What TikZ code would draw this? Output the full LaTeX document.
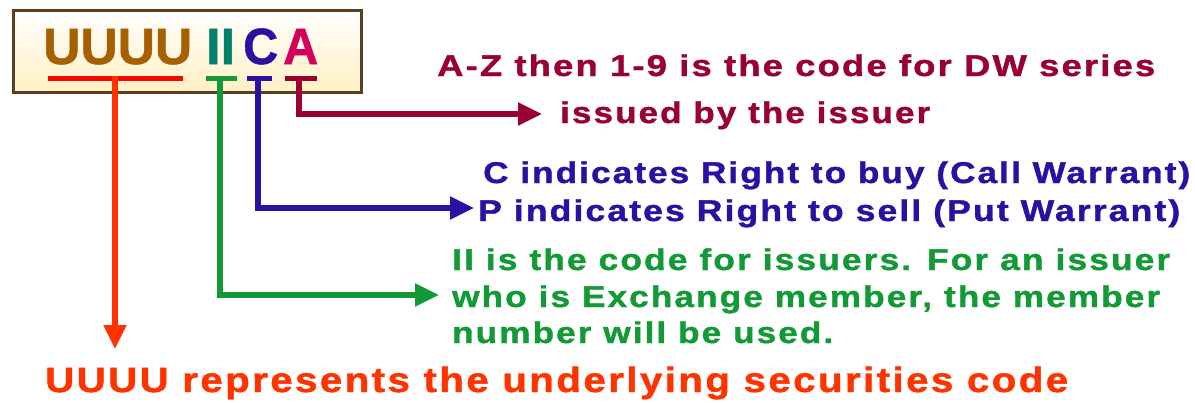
\documentclass[tikz,border=0pt]{standalone}
\usepackage{fontspec}
\usepackage{graphicx}
\setmainfont{Liberation Sans}
\newfontfamily\widefont[LetterSpace=6,FakeBold=1.2]{Liberation Sans}
\newfontfamily\boxfont[FakeBold=1]{Liberation Sans}
\usetikzlibrary{arrows.meta}
\definecolor{crim}{HTML}{990033}
\definecolor{blu}{HTML}{2B10A2}
\definecolor{grn}{HTML}{139A37}
\definecolor{org}{HTML}{FF3300}
\definecolor{brn}{HTML}{A66000}
\definecolor{teal2}{HTML}{00806A}
\definecolor{pnk}{HTML}{D5005A}
\definecolor{boxbd}{HTML}{5A4020}
\definecolor{cream}{HTML}{FFF0C4}
\newcommand\fitw[2]{\resizebox{#1}{\height}{#2}}
\tikzset{
  lbl/.style={inner sep=0pt, anchor=base west, font=\widefont\bfseries\fontsize{30}{32}\selectfont},
  big/.style={inner sep=0pt, anchor=base west, font=\boxfont\bfseries\fontsize{51}{54}\selectfont},
  uline/.style={line width=5pt},
  conn/.style={line width=5.5pt, -{Triangle[length=24pt,width=22pt]}},
}
\begin{document}
\begin{tikzpicture}[x=1pt,y=-1pt]
\useasboundingbox (0,0) rectangle (1195,402);
% code box
\node[draw=boxbd, line width=2.5pt, top color=white, bottom color=cream,
      minimum width=348pt, minimum height=82pt, inner sep=0pt, anchor=north west] (box) at (12,9) {};
\node[big, text=brn] (uuuu) at (43,64) {\fitw{149pt}{UUUU}};
\node[big, text=teal2] (ii) at (206,64) {\fitw{29pt}{II}};
\node[big, text=blu] (cc) at (243,64) {\fitw{35pt}{C}};
\node[big, text=pnk] (aa) at (283,64) {\fitw{35pt}{A}};
% underlines
\draw[uline, red] (48,78.5) -- (183,78.5);
\draw[uline, grn] (206,78.5) -- (237,78.5);
\draw[uline, blu] (247,78.5) -- (272,78.5);
\draw[uline, crim] (285,78.5) -- (317,78.5);
\coordinate (uS) at (115,76);
\coordinate (iS) at (220,76);
\coordinate (cS) at (258,76);
\coordinate (aS) at (299,76);
\coordinate (uE) at (115,349);
\coordinate (iE) at (439,295);
\coordinate (cE) at (474,208);
\coordinate (aE) at (542,114);
% texts
\node[lbl, text=crim] (t1) at (437,76) {\fitw{718pt}{A-Z then 1-9 is the code for DW series}};
\node[lbl, text=crim] (t2) at (560,123) {\fitw{370pt}{issued by the issuer}};
\node[lbl, text=blu] (t3) at (483,183) {\fitw{707pt}{C indicates Right to buy (Call Warrant)}};
\node[lbl, text=blu] (t4) at (478,221) {\fitw{702pt}{P indicates Right to sell (Put Warrant)}};
\node[lbl, text=grn] (t5) at (452,270) {\fitw{718pt}{II is the code for issuers. For an issuer}};
\node[lbl, text=grn] (t6) at (452,307) {\fitw{708pt}{who is Exchange member, the member}};
\node[lbl, text=grn] (t7) at (452,343) {\fitw{381pt}{number will be used.}};
\node[lbl, text=org, font=\widefont\bfseries\fontsize{35}{37}\selectfont] (t8) at (45,392) {\fitw{1023pt}{UUUU represents the underlying securities code}};
% connectors
\draw[conn, crim] (aS) |- (aE);
\draw[conn, blu] (cS) |- (cE);
\draw[conn, grn] (iS) |- (iE);
\draw[conn, org] (uS) -- (uE);
\end{tikzpicture}
\end{document}
